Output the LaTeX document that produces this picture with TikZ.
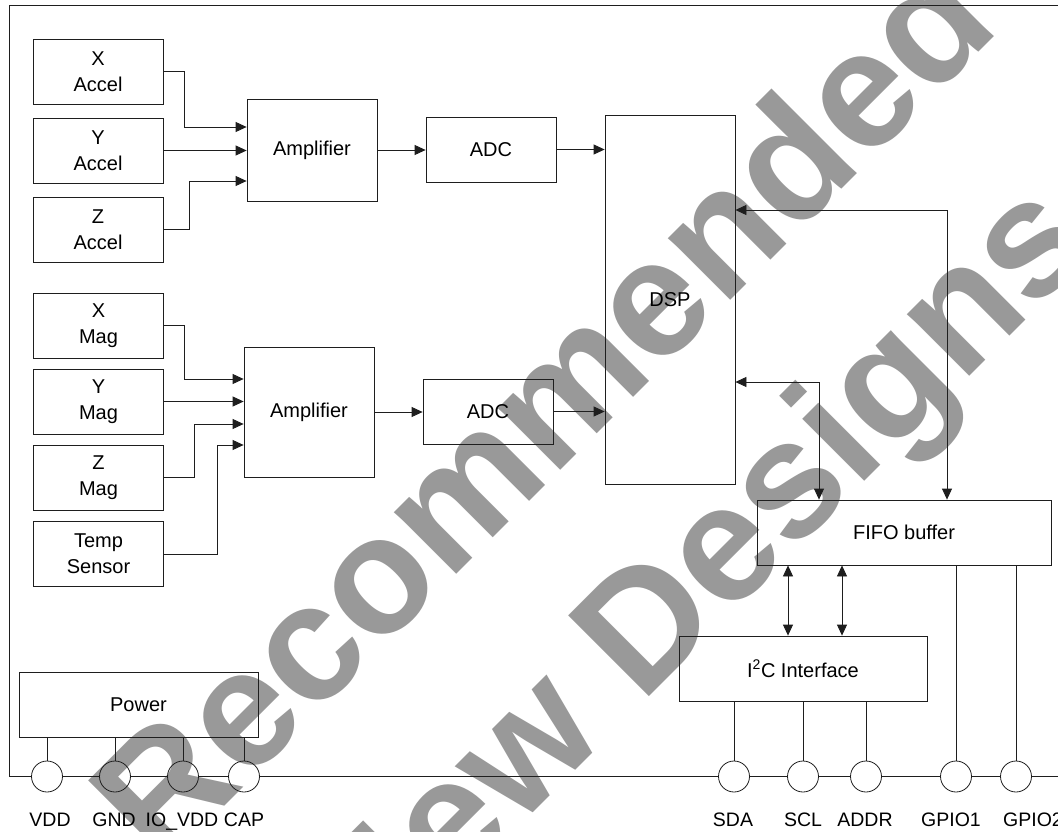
\documentclass[tikz,border=0pt]{standalone}
\usepackage{fontspec}
\setmainfont{Liberation Sans}
\usetikzlibrary{arrows.meta,calc}
\definecolor{wm}{RGB}{153,153,153}
\definecolor{ln}{RGB}{30,30,30}
\begin{document}
\begin{tikzpicture}[x=1pt,y=-1pt,
  box/.style={draw=ln, line width=0.8pt, inner sep=0pt, align=center, font=\fontsize{20}{26}\selectfont},
  sbox/.style={box, minimum width=130pt, minimum height=65pt},
  pin/.style={draw=ln, circle, line width=0.8pt, minimum size=31pt, inner sep=0pt},
  lab/.style={anchor=base, inner sep=0pt, font=\fontsize{19.5}{26}\selectfont},
  wire/.style={draw=ln, line width=0.8pt},
  arr/.style={wire, -{Triangle[length=11pt,width=10pt]}},
  arrb/.style={wire, {Triangle[length=11pt,width=10pt]}-{Triangle[length=11pt,width=10pt]}},
  wmark/.style={text=wm, font=\fontsize{166}{166}\selectfont\bfseries, rotate=45, anchor=base, inner sep=0pt}
]
\useasboundingbox (0,0) rectangle (1058,832);
\clip (0,0) rectangle (1058,832);
\fill[white] (0,0) rectangle (1058,832);

% watermark
\node[wmark] (wm1) at (582,449) {Recommended};
\node[wmark] (wm2) at (733,613) {New Designs};

% frame
\coordinate (ftr) at (1075,5);
\coordinate (ftl) at (9,5);
\coordinate (fbl) at (9,776.5);
\coordinate (fbr) at (1075,776.5);

% accel
\node[sbox] (xacc) at (98,71.5) {X\\Accel};
\node[sbox] (yacc) at (98,150.5) {Y\\Accel};
\node[sbox] (zacc) at (98,229.5) {Z\\Accel};
\node[box, minimum width=130pt, minimum height=102pt] (amp1) at (312,150) {Amplifier};
\node[sbox] (adc1) at (491,149.5) {ADC};
\node[box, minimum width=130pt, minimum height=369pt] (dsp) at (670,299.5) {DSP};

% mag
\node[sbox] (xmag) at (98.5,325.5) {X\\Mag};
\node[sbox] (ymag) at (98.5,401.5) {Y\\Mag};
\node[sbox] (zmag) at (98.5,477.5) {Z\\Mag};
\node[sbox] (temp) at (98.5,554) {Temp\\Sensor};
\node[box, minimum width=130pt, minimum height=130pt] (amp2) at (309,412) {Amplifier};
\node[sbox] (adc2) at (488,411.5) {ADC};

\node[box, minimum width=294pt, minimum height=65pt] (fifo) at (904,532.5) {FIFO buffer};
\node[box, minimum width=248pt, minimum height=65pt] (i2c) at (803,668.5) {I\textsuperscript{2}C Interface};
\node[box, minimum width=239pt, minimum height=65pt] (power) at (138.5,704.5) {Power};

% pins
\node[pin] (vdd) at (47,776.5) {};
\node[pin] (gnd) at (115,776.5) {};
\node[pin] (iovdd) at (183,776.5) {};
\node[pin] (cap) at (244,776.5) {};
\node[pin] (sda) at (734,776.5) {};
\node[pin] (scl) at (803,776.5) {};
\node[pin] (addr) at (866,776.5) {};
\node[pin] (gpioa) at (956,776.5) {};
\node[pin] (gpiob) at (1016,776.5) {};

\node[lab] (lvdd) at (50,826) {VDD};
\node[lab] (lgnd) at (114,826) {GND};
\node[lab] (liovdd) at (182,826) {IO\_VDD};
\node[lab] (lcap) at (244,826) {CAP};
\node[lab] (lsda) at (733,826) {SDA};
\node[lab] (lscl) at (803,826) {SCL};
\node[lab] (laddr) at (865,826) {ADDR};
\node[lab] (lgpioa) at (951,826) {GPIO1};
\node[lab] (lgpiob) at (1033,826) {GPIO2};

% frame lines
\draw[wire] (ftr) -- (ftl) -- (fbl) -- (vdd.west);
\draw[wire] (vdd.east) -- (gnd.west);
\draw[wire] (gnd.east) -- (iovdd.west);
\draw[wire] (iovdd.east) -- (cap.west);
\draw[wire] (cap.east) -- (sda.west);
\draw[wire] (sda.east) -- (scl.west);
\draw[wire] (scl.east) -- (addr.west);
\draw[wire] (addr.east) -- (gpioa.west);
\draw[wire] (gpioa.east) -- (gpiob.west);
\draw[wire] (gpiob.east) -- (fbr);

% accel connectors
\draw[arr] (xacc.east) -| (184,127) -- (amp1.west |- 0,127);
\draw[arr] (yacc.east) -- (amp1.west |- yacc.east);
\draw[arr] (zacc.east) -| (189,181) -- (amp1.west |- 0,181);
\draw[arr] (amp1.east) -- (adc1.west |- amp1.east);
\draw[arr] (adc1.east) -- (dsp.west |- adc1.east);

% mag connectors
\draw[arr] (xmag.east) -| (184,379) -- (amp2.west |- 0,379);
\draw[arr] (ymag.east) -- (amp2.west |- ymag.east);
\draw[arr] (zmag.east) -| (194,424) -- (amp2.west |- 0,424);
\draw[arr] (temp.east) -| (217,445) -- (amp2.west |- 0,445);
\draw[arr] (amp2.east) -- (adc2.west |- amp2.east);
\draw[arr] (adc2.east) -- (dsp.west |- adc2.east);

% dsp <-> fifo
\draw[arrb] (dsp.east |- 0,210) -| (fifo.north -| 947,0);
\draw[arrb] (dsp.east |- 0,382) -| (fifo.north -| 819,0);

% fifo <-> i2c
\draw[arrb] (fifo.south -| 788,0) -- (i2c.north -| 788,0);
\draw[arrb] (fifo.south -| 842,0) -- (i2c.north -| 842,0);

% pins wires
\draw[wire] (i2c.south -| sda) -- (sda.north);
\draw[wire] (i2c.south -| scl) -- (scl.north);
\draw[wire] (i2c.south -| addr) -- (addr.north);
\draw[wire] (fifo.south -| gpioa) -- (gpioa.north);
\draw[wire] (fifo.south -| gpiob) -- (gpiob.north);
\draw[wire] (power.south -| vdd) -- (vdd.north);
\draw[wire] (power.south -| gnd) -- (gnd.north);
\draw[wire] (power.south -| iovdd) -- (iovdd.north);
\draw[wire] (power.south -| cap) -- (cap.north);
\end{tikzpicture}
\end{document}
